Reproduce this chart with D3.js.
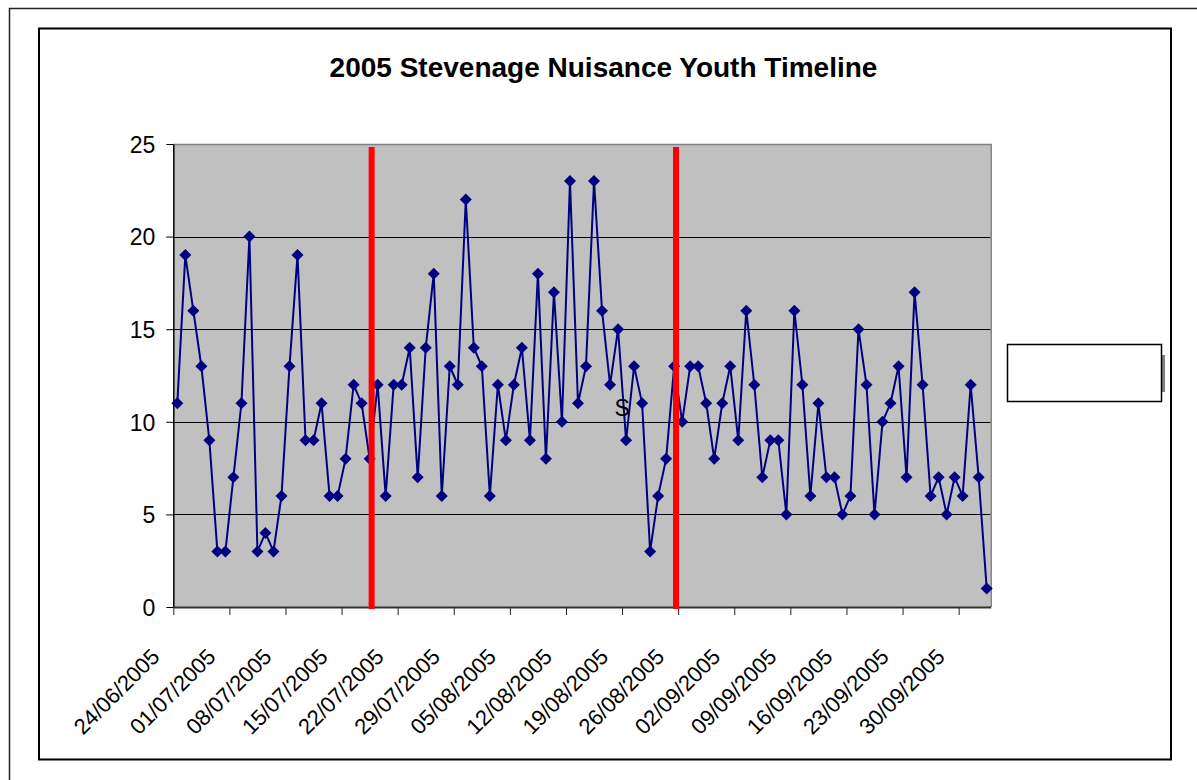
<!DOCTYPE html>
<meta charset="utf-8">
<style>
    body { margin: 0; background: #fff; }
    svg { display: block; font-family: Arial, "Liberation Sans", sans-serif; }
    .axis text { fill: #000; }
    .grid line { stroke: #000; stroke-width: 1; }
</style>
<svg width="1197" height="780"></svg>
<script src="https://d3js.org/d3.v7.min.js"></script>
<script>

    // daily counts, one per day starting 24/06/2005
    var firstDay = "24/06/2005";
    var lastDay = "04/10/2005";
    var counts = [11, 19, 16, 13, 9, 3, 3, 7, 11, 20, 3, 4, 3, 6, 13, 19, 9, 9, 11, 6, 6, 8, 12, 11, 8,
        12, 6, 12, 12, 14, 7, 14, 18, 6, 13, 12, 22, 14, 13, 6, 12, 9, 12, 14, 9, 18, 8, 17, 10, 23, 11,
        13, 23, 16, 12, 15, 9, 13, 11, 3, 6, 8, 13, 10, 13, 13, 11, 8, 11, 13, 9, 16, 12, 7, 9, 9,
        5, 16, 12, 6, 11, 7, 7, 5, 6, 15, 12, 5, 10, 11, 13, 7, 17, 12, 6, 7, 5, 7, 6, 12, 7, 1];

    var xTickLabels = ["24/06/2005", "01/07/2005", "08/07/2005", "15/07/2005", "22/07/2005",
        "29/07/2005", "05/08/2005", "12/08/2005", "19/08/2005", "26/08/2005", "02/09/2005",
        "09/09/2005", "16/09/2005", "23/09/2005", "30/09/2005"];
    var yTickValues = [0, 5, 10, 15, 20, 25];

    // the two red marker lines
    var redLines = ["18/07/2005 18:00", "25/08/2005 17:30"];

    // stray label left on the chart
    var strayLabel = {text: "S", day: "19/08/2005", value: 10.3};

    var title = "2005 Stevenage Nuisance Youth Timeline";

    var parseDay = d3.utcParse("%d/%m/%Y"),
        parseTime = d3.utcParse("%d/%m/%Y %H:%M");

    var svg = d3.select("svg");

    var plot = {left: 173.3, right: 990.7, top: 144, bottom: 607};

    // outer frame (runs off the page) and chart area border
    svg.append("rect")
        .attr("x", 9.5).attr("y", 8.5)
        .attr("width", 1300).attr("height", 900)
        .attr("fill", "none").attr("stroke", "#222").attr("stroke-width", 1.5);
    svg.append("rect")
        .attr("x", 39).attr("y", 28.5)
        .attr("width", 1132).attr("height", 731)
        .attr("fill", "#fff").attr("stroke", "#000").attr("stroke-width", 2);

    var x = d3.scaleUtc()
        .domain([parseDay(firstDay), parseDay(lastDay)])
        .range([plot.left, plot.right]);

    var y = d3.scaleLinear()
        .domain([0, 25])
        .range([plot.bottom, plot.top]);

    var days = d3.utcDay.range(parseDay(firstDay), parseDay(lastDay));
    var data = counts.map(function (c, i) {
        return {date: d3.utcHour.offset(days[i], 12), value: c};
    });

    // plot background
    svg.append("rect")
        .attr("x", plot.left).attr("y", plot.top)
        .attr("width", plot.right - plot.left)
        .attr("height", plot.bottom - plot.top)
        .attr("fill", "#c0c0c0");

    // gridlines
    svg.append("g")
        .attr("class", "grid")
        .selectAll("line")
        .data(yTickValues.filter(function (d) { return d > 0 && d < 25; }))
        .enter().append("line")
        .attr("x1", plot.left).attr("x2", plot.right)
        .attr("y1", function (d) { return Math.round(y(d)) + 0.5; })
        .attr("y2", function (d) { return Math.round(y(d)) + 0.5; });

    // top / right plot border
    svg.append("path")
        .attr("d", "M" + plot.left + "," + (plot.top + 0.5) + "H" + (plot.right + 0.5) + "V" + plot.bottom)
        .attr("fill", "none").attr("stroke", "#808080").attr("stroke-width", 1.5);

    // y axis
    var yAxis = svg.append("g")
        .attr("class", "axis")
        .attr("transform", "translate(" + plot.left + ",0)")
        .call(d3.axisLeft(y).tickValues(yTickValues).tickSize(7).tickSizeOuter(0).tickPadding(11));
    yAxis.select(".domain").attr("stroke", "#000").attr("stroke-width", 1.5);
    yAxis.selectAll(".tick line").attr("stroke", "#000");
    yAxis.selectAll("text")
        .style("font-size", "23px")
        .attr("dy", "0.36em")
        .attr("font-family", null);

    // x axis
    var xTicks = xTickLabels.map(parseDay);
    var xAxis = svg.append("g")
        .attr("class", "axis")
        .attr("transform", "translate(0," + plot.bottom + ")")
        .call(d3.axisBottom(x).tickValues(xTicks).tickSize(8).tickSizeOuter(0)
            .tickFormat(d3.utcFormat("%d/%m/%Y")));
    xAxis.select(".domain").attr("stroke", "#333").attr("stroke-width", 2);
    xAxis.selectAll(".tick line").attr("stroke", "#222");
    xAxis.selectAll("text")
        .style("font-size", "22px")
        .attr("font-family", null)
        .attr("text-anchor", "end")
        .attr("y", 0).attr("dy", 0)
        .attr("transform", "translate(-13,51) rotate(-45)");

    // series
    var line = d3.line()
        .x(function (d) { return x(d.date); })
        .y(function (d) { return y(d.value); });

    svg.append("path")
        .datum(data)
        .attr("d", line)
        .attr("fill", "none")
        .attr("stroke", "#000080")
        .attr("stroke-width", 2);

    svg.append("g")
        .selectAll("path")
        .data(data)
        .enter().append("path")
        .attr("d", d3.symbol(d3.symbolSquare, 72))
        .attr("fill", "#000080")
        .attr("transform", function (d) {
            return "translate(" + x(d.date) + "," + y(d.value) + ") rotate(45)";
        });

    // red vertical lines
    svg.append("g")
        .selectAll("line")
        .data(redLines)
        .enter().append("line")
        .attr("x1", function (d) { return x(parseTime(d)); })
        .attr("x2", function (d) { return x(parseTime(d)); })
        .attr("y1", plot.top + 3)
        .attr("y2", plot.bottom + 2)
        .attr("stroke", "#ff0000")
        .attr("stroke-width", 6);

    svg.append("text")
        .attr("x", x(parseDay(strayLabel.day)))
        .attr("y", y(strayLabel.value))
        .attr("text-anchor", "middle")
        .style("font-size", "23px")
        .text(strayLabel.text);

    // title
    svg.append("text")
        .attr("x", 603.5)
        .attr("y", 77)
        .attr("text-anchor", "middle")
        .style("font-size", "28px")
        .style("font-weight", "bold")
        .text(title);

    // empty legend box with its shadow
    svg.append("rect")
        .attr("x", 1162).attr("y", 355)
        .attr("width", 3).attr("height", 37)
        .attr("fill", "#808080");
    svg.append("rect")
        .attr("x", 1007.5).attr("y", 344.5)
        .attr("width", 154).attr("height", 57)
        .attr("fill", "#fff").attr("stroke", "#000").attr("stroke-width", 1.5);

</script>
